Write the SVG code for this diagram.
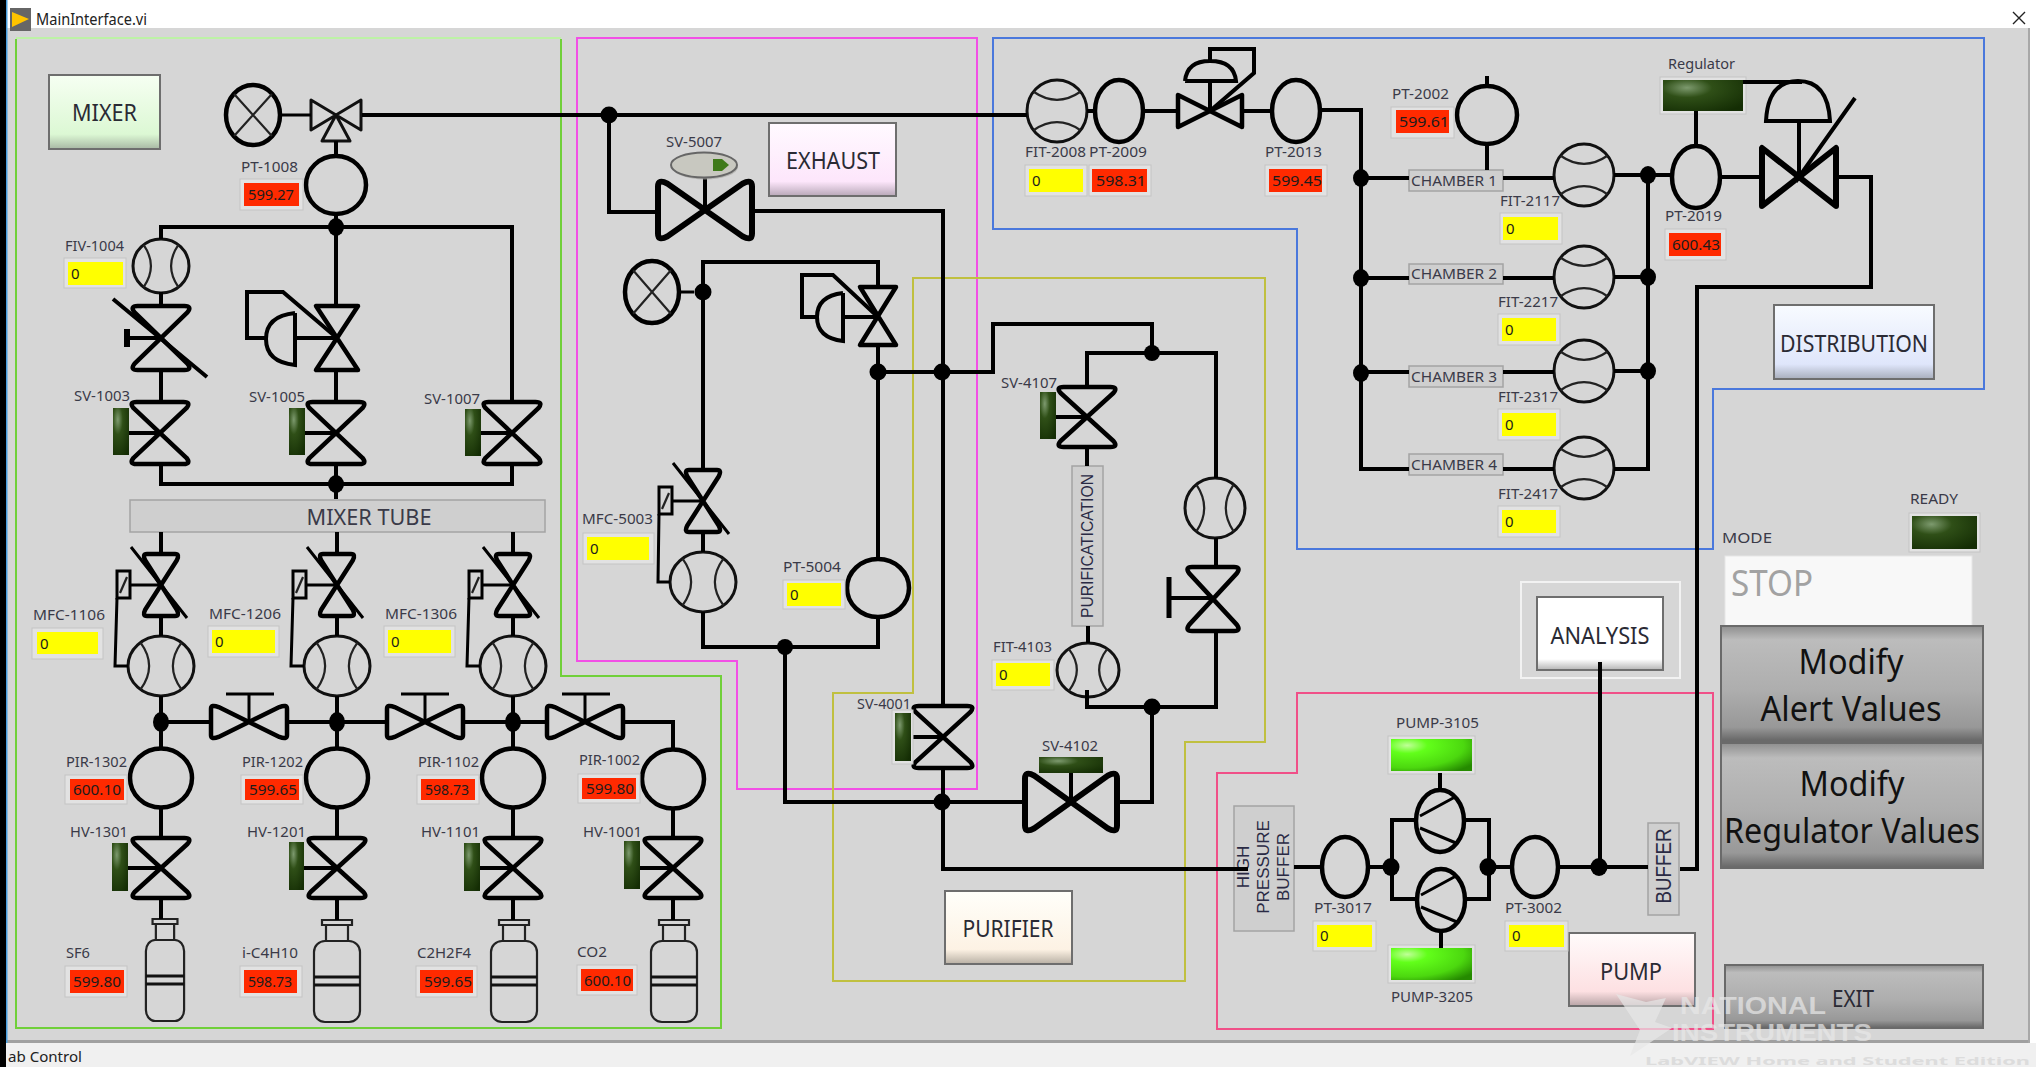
<svg xmlns="http://www.w3.org/2000/svg" xmlns:xlink="http://www.w3.org/1999/xlink" width="2036" height="1067" viewBox="0 0 2036 1067">
<style>
text{font-family:"Noto Sans","Open Sans","Liberation Sans",sans-serif}
.l{font-size:15px;fill:#3a3a48}
.v{font-size:15px;fill:#1c1c1c}
.b{font-size:24px;fill:#2a2a34;text-anchor:middle}
.g{font-size:34px;fill:#111;text-anchor:middle}
.r{font-family:"Liberation Sans",sans-serif;fill:#2a2a44;text-anchor:middle}
.w{font-family:"Liberation Sans",sans-serif;font-size:24px;font-weight:700;fill:#e8e8e8}
.pipe{fill:none;stroke:#000;stroke-width:4}
.thin{fill:none;stroke:#000;stroke-width:3}
.j{fill:#000}
.s{fill:none;stroke:#000;stroke-width:4.500;stroke-linejoin:round;vector-effect:non-scaling-stroke}
.s5{fill:none;stroke:#000;stroke-width:6;stroke-linejoin:round;vector-effect:non-scaling-stroke}
.s3{fill:none;stroke:#111;stroke-width:3;stroke-linejoin:round;vector-effect:non-scaling-stroke}
.s2{fill:none;stroke:#222;stroke-width:2.2;vector-effect:non-scaling-stroke}
.fr{fill:#e2e2e2;stroke:#c4c4c4;stroke-width:1}
.red{fill:#ff2a00}
.yel{fill:#ffff00}
.region{fill:none;stroke-width:2}
.btn{stroke:#6e6e6e;stroke-width:2}
.gbtn{fill:url(#gb);stroke:#6a6a6a;stroke-width:2}
.tag{fill:#cfcfcf;stroke:#a4a4a4;stroke-width:1.5}
</style>
<defs>
<radialGradient id="led" cx=".3" cy=".25" r=".9"><stop offset="0" stop-color="#7d9a6e"/><stop offset=".35" stop-color="#2f4f17"/><stop offset="1" stop-color="#142d04"/></radialGradient>
<radialGradient id="ledon" cx=".2" cy=".2" r="1"><stop offset="0" stop-color="#c0ff98"/><stop offset=".25" stop-color="#62ff1a"/><stop offset=".7" stop-color="#4cd80f"/><stop offset="1" stop-color="#258a00"/></radialGradient>
<linearGradient id="gb" x1="0" y1="0" x2="0" y2="1"><stop offset="0" stop-color="#8e8e8e"/><stop offset=".12" stop-color="#bcbcbc"/><stop offset=".55" stop-color="#aeaeae"/><stop offset=".88" stop-color="#989898"/><stop offset="1" stop-color="#666"/></linearGradient>
<linearGradient id="bgreen" x1="0" y1="0" x2="0" y2="1"><stop offset="0" stop-color="#f6fff2"/><stop offset=".8" stop-color="#dcf8d4"/><stop offset="1" stop-color="#a8b8a4"/></linearGradient>
<linearGradient id="bpink" x1="0" y1="0" x2="0" y2="1"><stop offset="0" stop-color="#fffaff"/><stop offset=".8" stop-color="#fde6fb"/><stop offset="1" stop-color="#b8a8b8"/></linearGradient>
<linearGradient id="bcream" x1="0" y1="0" x2="0" y2="1"><stop offset="0" stop-color="#fffffa"/><stop offset=".8" stop-color="#fdf2e4"/><stop offset="1" stop-color="#b8b0a4"/></linearGradient>
<linearGradient id="bblue" x1="0" y1="0" x2="0" y2="1"><stop offset="0" stop-color="#f8fbff"/><stop offset=".8" stop-color="#dfe6fb"/><stop offset="1" stop-color="#a8aebc"/></linearGradient>
<linearGradient id="brose" x1="0" y1="0" x2="0" y2="1"><stop offset="0" stop-color="#fffbfb"/><stop offset=".8" stop-color="#fde0e2"/><stop offset="1" stop-color="#b8a4a6"/></linearGradient>
<linearGradient id="bwhite" x1="0" y1="0" x2="0" y2="1"><stop offset="0" stop-color="#fff"/><stop offset=".85" stop-color="#fff"/><stop offset="1" stop-color="#b4b4b4"/></linearGradient>
<path id="hg" class="s" d="M-.78,-1 Q-1.05,-1 -.88,-.8 L.88,.8 Q1.05,1 .78,1 L-.78,1 Q-1.05,1 -.88,.8 L.88,-.8 Q1.05,-1 .78,-1 Z"/>
<path id="bt" class="s5" d="M-1,-.78 Q-1,-1.05 -.8,-.88 L.8,.88 Q1,1.05 1,.78 L1,-.78 Q1,-1.05 .8,-.88 L-.8,.88 Q-1,1.05 -1,.78 Z"/>
<path id="gt" class="s" d="M-1,-.78 Q-1,-1.05 -.8,-.88 L.8,.88 Q1,1.05 1,.78 L1,-.78 Q1,-1.05 .8,-.88 L-.8,.88 Q-1,1.05 -1,.78 Z"/>
<path id="shg" class="s" d="M-1,-1 L1,-1 L-1,1 L1,1 Z"/>
<path id="sbt" class="s" d="M-1,-1 L-1,1 L1,-1 L1,1 Z"/>
<path id="sbt5" class="s5" d="M-1,-1 L-1,1 L1,-1 L1,1 Z"/>
<ellipse id="ring" class="s" rx="1" ry="1"/>
<g id="xg"><ellipse class="s" rx="1" ry="1"/><path class="s2" d="M-.7,-.7 L.7,.7 M.7,-.7 L-.7,.7"/></g>
<g id="fv"><ellipse class="s3" rx="1" ry="1"/><path class="s2" d="M-.62,-.78 Q-.1,0 -.62,.78 M.62,-.78 Q.1,0 .62,.78"/></g>
<g id="fh"><ellipse class="s3" rx="1" ry="1"/><path class="s2" d="M-.78,-.62 Q0,-.1 .78,-.62 M-.78,.62 Q0,.1 .78,.62"/></g>
<g id="cyl"><rect class="s2" x="-23" y="21" width="46" height="81" rx="11"/><path class="s2" d="M-11,5 V21 M11,5 V21"/><rect class="s2" x="-15" y="0" width="30" height="5"/><path class="s3" d="M-23,57 H23 M-23,65 H23"/></g>
<g id="mfcv"><use href="#hg" transform="scale(18,31)"/><path class="thin" d="M-30,-38 L26,33 M-31,0 H0"/><rect class="thin" x="-44" y="-14" width="13" height="27"/><path class="s2" d="M-41,8 L-34,-8"/></g>
</defs>

<rect width="2036" height="1067" fill="#fff"/>
<rect x="6" y="28" width="2024" height="1015" fill="#d6d6d6"/>
<rect x="6" y="1043" width="2030" height="24" fill="#f0f0f0"/>
<rect x="6" y="1040" width="2024" height="3" fill="#a0a0a0"/>
<rect x="2028" y="28" width="2" height="1015" fill="#a8a8a8"/>
<rect x="0" y="0" width="6" height="1067" fill="#000"/>
<rect x="6" y="0" width="1.5" height="1043" fill="#4aa0e0"/>
<g id="titlebar">
<rect x="10" y="8" width="21" height="23" fill="#666"/><path d="M12,12 L29,19 L12,27 Z" fill="#ffc400"/>
<text x="36" y="25" font-size="15.5" fill="#222" textLength="111" lengthAdjust="spacingAndGlyphs">MainInterface.vi</text>
<path d="M2013,12 L2025,24 M2025,12 L2013,24" stroke="#222" stroke-width="1.4"/>
</g>
<text x="8" y="1062" font-size="14.5" fill="#222" textLength="74" lengthAdjust="spacingAndGlyphs">ab Control</text>

<g id="regions">
<polyline class="region" stroke="#70d03a" points="561,39 561,676 721,676 721,1028 16,1028 16,39"/>
<path class="region" stroke="#bdf2a6" d="M16,38 H561"/>
<polygon class="region" stroke="#f24fe6" points="577,38 977,38 977,789 737,789 737,661 577,661"/>
<polygon class="region" stroke="#4a78dc" points="993,38 1984,38 1984,389 1713,389 1713,549 1297,549 1297,229 993,229"/>
<polygon class="region" stroke="#c0c040" points="913,278 1265,278 1265,742 1185,742 1185,981 833,981 833,693 913,693"/>
<polygon class="region" stroke="#f05088" points="1297,693 1713,693 1713,1029 1217,1029 1217,773 1297,773"/>
<rect x="1521" y="582" width="159" height="96" fill="none" stroke="#f2f2f2" stroke-width="2"/>
</g>

<g id="MIXER"><rect class="btn" fill="url(#bgreen)" x="49" y="75" width="111" height="74"/><text class="b" x="104.500" y="121" textLength="65" lengthAdjust="spacingAndGlyphs">MIXER</text></g>
<g id="EXHAUST"><rect class="btn" fill="url(#bpink)" x="769" y="123" width="127" height="73"/><text class="b" x="833" y="169" textLength="94" lengthAdjust="spacingAndGlyphs">EXHAUST</text></g>
<g id="PURIFIER"><rect class="btn" fill="url(#bcream)" x="945" y="891" width="127" height="73"/><text class="b" x="1008" y="937" textLength="91" lengthAdjust="spacingAndGlyphs">PURIFIER</text></g>
<g id="DISTRIBUTION"><rect class="btn" fill="url(#bblue)" x="1774" y="305" width="160" height="74"/><text class="b" x="1854" y="352" textLength="148" lengthAdjust="spacingAndGlyphs">DISTRIBUTION</text></g>
<g id="ANALYSIS"><rect class="btn" fill="url(#bwhite)" x="1537" y="597" width="126" height="73"/><text class="b" x="1600" y="644" textLength="99" lengthAdjust="spacingAndGlyphs">ANALYSIS</text></g>
<g id="PUMP"><rect class="btn" fill="url(#brose)" x="1569" y="933" width="126" height="73"/><text class="b" x="1631" y="980" textLength="62" lengthAdjust="spacingAndGlyphs">PUMP</text></g>

<g id="MODE"><text class="l" x="1722" y="543" textLength="50" lengthAdjust="spacingAndGlyphs">MODE</text><rect x="1725" y="556" width="247" height="70" fill="#f8f8f8" stroke="#e6e6e6"/><text x="1731" y="596" font-size="36" fill="#a2a2a2" textLength="82" lengthAdjust="spacingAndGlyphs">STOP</text></g>
<g id="READY"><text class="l" x="1910" y="504" textLength="48" lengthAdjust="spacingAndGlyphs">READY</text><rect class="fr" x="1909" y="513" width="71" height="39"/><rect x="1912" y="516" width="65" height="33" fill="url(#led)"/></g>
<g id="ModifyAlert"><rect class="gbtn" x="1721" y="626" width="262" height="115"/><text class="g" x="1851" y="674" textLength="105" lengthAdjust="spacingAndGlyphs">Modify</text><text class="g" x="1851" y="721" textLength="181" lengthAdjust="spacingAndGlyphs">Alert Values</text></g>
<g id="ModifyRegulator"><rect class="gbtn" x="1721" y="743" width="262" height="125"/><text class="g" x="1852" y="796" textLength="105" lengthAdjust="spacingAndGlyphs">Modify</text><text class="g" x="1852" y="843" textLength="256" lengthAdjust="spacingAndGlyphs">Regulator Values</text></g>
<g id="EXIT"><rect class="gbtn" x="1725" y="965" width="258" height="63"/><text class="b" x="1853" y="1007" textLength="42" lengthAdjust="spacingAndGlyphs">EXIT</text></g>

<g id="gauge-1"><use href="#xg" transform="translate(253,115) scale(27,30)"/></g>
<g id="valve-3way"><path class="s3" d="M311,100 L336,115 L311,130 Z M361,100 L336,115 L361,130 Z M336,115 L322,141 H350 Z"/></g>
<g id="PT-1008"><use href="#ring" transform="translate(336,185) scale(30,29)"/><text class="l" x="241" y="172" textLength="57" lengthAdjust="spacingAndGlyphs">PT-1008</text><rect class="fr" x="240" y="179" width="63" height="31"/><rect class="red" x="244" y="183" width="55" height="23"/><text class="v" x="248" y="200" textLength="46" lengthAdjust="spacingAndGlyphs">599.27</text></g>
<g id="FIV-1004"><use href="#fv" transform="translate(161,266) scale(28,27)"/><text class="l" x="65" y="251" textLength="59" lengthAdjust="spacingAndGlyphs">FIV-1004</text><rect class="fr" x="64" y="258" width="62" height="30"/><rect class="yel" x="68" y="262" width="55" height="23"/><text class="v" x="71" y="279">0</text></g>
<g id="valve-1004"><use href="#hg" transform="translate(161,338) scale(30,32)"/><path class="pipe" d="M113,299 L207,377 M161,338 H127"/><path d="M127,329 V347" stroke="#000" stroke-width="6" fill="none"/></g>
<g id="valve-1005"><use href="#shg" transform="translate(337,338) scale(21,32)"/><path class="pipe" d="M295,313 V365 Q266,362 266,339 Q266,316 295,313 M295,338 H337 M266,338 H247 V292 H283 L337,338"/></g>
<g id="SV-1003"><use href="#hg" transform="translate(160,433) scale(30,31)"/><path class="pipe" d="M129,433 H160"/><text class="l" x="74" y="401" textLength="56" lengthAdjust="spacingAndGlyphs">SV-1003</text><rect x="113" y="408" width="16" height="47" fill="url(#led)"/></g>
<g id="SV-1005"><use href="#hg" transform="translate(336,433) scale(30,31)"/><path class="pipe" d="M305,433 H336"/><text class="l" x="249" y="402" textLength="56" lengthAdjust="spacingAndGlyphs">SV-1005</text><rect x="289" y="408" width="16" height="47" fill="url(#led)"/></g>
<g id="SV-1007"><use href="#hg" transform="translate(512,433) scale(30,31)"/><path class="pipe" d="M481,433 H512"/><text class="l" x="424" y="404" textLength="56" lengthAdjust="spacingAndGlyphs">SV-1007</text><rect x="465" y="409" width="16" height="47" fill="url(#led)"/></g>
<g id="MIXER-TUBE"><rect class="tag" x="130" y="500" width="415" height="32"/><text x="369" y="525" font-size="22" fill="#3a3a48" text-anchor="middle" textLength="125" lengthAdjust="spacingAndGlyphs">MIXER TUBE</text></g>

<g id="MFC-1106"><use href="#mfcv" transform="translate(161,585)"/><use href="#fv" transform="translate(161,666) scale(33,30)"/><text class="l" x="33" y="620" textLength="72" lengthAdjust="spacingAndGlyphs">MFC-1106</text><rect class="fr" x="32" y="628" width="71" height="31"/><rect class="yel" x="37" y="632" width="61" height="22"/><text class="v" x="40" y="649">0</text></g>
<g id="MFC-1206"><use href="#mfcv" transform="translate(337,585)"/><use href="#fv" transform="translate(337,666) scale(33,30)"/><text class="l" x="209" y="619" textLength="72" lengthAdjust="spacingAndGlyphs">MFC-1206</text><rect class="fr" x="208" y="626" width="71" height="31"/><rect class="yel" x="212" y="630" width="63" height="23"/><text class="v" x="215" y="647">0</text></g>
<g id="MFC-1306"><use href="#mfcv" transform="translate(513,585)"/><use href="#fv" transform="translate(513,666) scale(33,30)"/><text class="l" x="385" y="619" textLength="72" lengthAdjust="spacingAndGlyphs">MFC-1306</text><rect class="fr" x="384" y="626" width="71" height="31"/><rect class="yel" x="388" y="630" width="63" height="23"/><text class="v" x="391" y="647">0</text></g>
<g id="gate-1"><use href="#gt" transform="translate(249,722) scale(38,17)"/><path class="thin" d="M249,722 V694 M226,694 H274"/></g>
<g id="gate-2"><use href="#gt" transform="translate(425,722) scale(38,17)"/><path class="thin" d="M425,722 V694 M401,694 H449"/></g>
<g id="gate-3"><use href="#gt" transform="translate(585,722) scale(38,17)"/><path class="thin" d="M585,722 V694 M562,694 H610"/></g>

<g id="PIR-1302"><use href="#ring" transform="translate(161,778) scale(31,29.500)"/><text class="l" x="66" y="767" textLength="61" lengthAdjust="spacingAndGlyphs">PIR-1302</text><rect class="fr" x="65" y="775" width="62" height="29"/><rect class="red" x="70" y="779" width="54" height="21"/><text class="v" x="73" y="795" textLength="48" lengthAdjust="spacingAndGlyphs">600.10</text></g>
<g id="PIR-1202"><use href="#ring" transform="translate(337,778) scale(31,29.500)"/><text class="l" x="242" y="767" textLength="61" lengthAdjust="spacingAndGlyphs">PIR-1202</text><rect class="fr" x="241" y="775" width="62" height="29"/><rect class="red" x="245" y="779" width="54" height="21"/><text class="v" x="249" y="795" textLength="48" lengthAdjust="spacingAndGlyphs">599.65</text></g>
<g id="PIR-1102"><use href="#ring" transform="translate(513,778) scale(31,29.500)"/><text class="l" x="418" y="767" textLength="61" lengthAdjust="spacingAndGlyphs">PIR-1102</text><rect class="fr" x="417" y="775" width="62" height="29"/><rect class="red" x="421" y="779" width="54" height="21"/><text class="v" x="425" y="795" textLength="44" lengthAdjust="spacingAndGlyphs">598.73</text></g>
<g id="PIR-1002"><use href="#ring" transform="translate(673,779) scale(31,29.500)"/><text class="l" x="579" y="765" textLength="61" lengthAdjust="spacingAndGlyphs">PIR-1002</text><rect class="fr" x="578" y="774" width="62" height="29"/><rect class="red" x="582" y="778" width="54" height="21"/><text class="v" x="586" y="794" textLength="48" lengthAdjust="spacingAndGlyphs">599.80</text></g>

<g id="HV-1301"><use href="#hg" transform="translate(161,868) scale(30,30)"/><path class="pipe" d="M128,868 H161"/><text class="l" x="70" y="837" textLength="58" lengthAdjust="spacingAndGlyphs">HV-1301</text><rect x="112" y="843" width="16" height="48" fill="url(#led)"/></g>
<g id="HV-1201"><use href="#hg" transform="translate(337,868) scale(30,30)"/><path class="pipe" d="M304,868 H337"/><text class="l" x="247" y="837" textLength="59" lengthAdjust="spacingAndGlyphs">HV-1201</text><rect x="289" y="842" width="15" height="48" fill="url(#led)"/></g>
<g id="HV-1101"><use href="#hg" transform="translate(513,868) scale(30,30)"/><path class="pipe" d="M480,868 H513"/><text class="l" x="421" y="837" textLength="59" lengthAdjust="spacingAndGlyphs">HV-1101</text><rect x="464" y="843" width="16" height="48" fill="url(#led)"/></g>
<g id="HV-1001"><use href="#hg" transform="translate(673,868) scale(30,30)"/><path class="pipe" d="M640,868 H673"/><text class="l" x="583" y="837" textLength="59" lengthAdjust="spacingAndGlyphs">HV-1001</text><rect x="624" y="841" width="16" height="48" fill="url(#led)"/></g>

<g id="SF6"><use href="#cyl" transform="translate(165,919) scale(.83,1)"/><text class="l" x="66" y="958" textLength="24" lengthAdjust="spacingAndGlyphs">SF6</text><rect class="fr" x="65" y="966" width="62" height="31"/><rect class="red" x="70" y="970" width="54" height="23"/><text class="v" x="73" y="987" textLength="48" lengthAdjust="spacingAndGlyphs">599.80</text></g>
<g id="i-C4H10"><use href="#cyl" transform="translate(337,920)"/><text class="l" x="242" y="958" textLength="56" lengthAdjust="spacingAndGlyphs">i-C4H10</text><rect class="fr" x="240" y="966" width="62" height="31"/><rect class="red" x="244" y="970" width="53" height="23"/><text class="v" x="248" y="987" textLength="44" lengthAdjust="spacingAndGlyphs">598.73</text></g>
<g id="C2H2F4"><use href="#cyl" transform="translate(514,920)"/><text class="l" x="417" y="958" textLength="54" lengthAdjust="spacingAndGlyphs">C2H2F4</text><rect class="fr" x="416" y="966" width="61" height="31"/><rect class="red" x="420" y="970" width="53" height="23"/><text class="v" x="424" y="987" textLength="48" lengthAdjust="spacingAndGlyphs">599.65</text></g>
<g id="CO2"><use href="#cyl" transform="translate(674,920)"/><text class="l" x="577" y="957" textLength="30" lengthAdjust="spacingAndGlyphs">CO2</text><rect class="fr" x="577" y="965" width="60" height="30"/><rect class="red" x="581" y="969" width="52" height="22"/><text class="v" x="584" y="986" textLength="47" lengthAdjust="spacingAndGlyphs">600.10</text></g>

<g id="SV-5007"><use href="#bt" transform="translate(705,210) scale(47,30)"/><path class="pipe" d="M705,210 V178"/><text class="l" x="666" y="147" textLength="56" lengthAdjust="spacingAndGlyphs">SV-5007</text><ellipse cx="705" cy="167" rx="33" ry="12.500" fill="#a8a8a4" opacity=".7"/><ellipse cx="704" cy="165" rx="33" ry="12.500" fill="#c8c8c0" stroke="#666" stroke-width="2"/><path d="M713,159 H722 L729,165 L722,171 H713 Z" fill="#3f7a1a"/></g>
<g id="gauge-2"><use href="#xg" transform="translate(652,292) scale(27,31)"/></g>
<g id="valve-5005"><use href="#shg" transform="translate(878,316) scale(18,29)"/><path class="pipe" d="M843,293 V341 Q817,338 817,317 Q817,296 843,293 M843,317 H878 M817,317 H802 V275 H833 L878,317"/></g>
<g id="MFC-5003"><use href="#mfcv" transform="translate(703,501)"/><use href="#fv" transform="translate(703,582) scale(33,30)"/><text class="l" x="582" y="524" textLength="71" lengthAdjust="spacingAndGlyphs">MFC-5003</text><rect class="fr" x="583" y="533" width="71" height="31"/><rect class="yel" x="587" y="537" width="62" height="23"/><text class="v" x="590" y="554">0</text></g>
<g id="PT-5004"><use href="#ring" transform="translate(878,588) scale(31,29)"/><text class="l" x="783" y="572" textLength="58" lengthAdjust="spacingAndGlyphs">PT-5004</text><rect class="fr" x="783" y="580" width="62" height="29"/><rect class="yel" x="787" y="583" width="54" height="23"/><text class="v" x="790" y="600">0</text></g>
<g id="SV-4001"><use href="#hg" transform="translate(943,737) scale(31,31)"/><path class="pipe" d="M911,737 H943"/><text class="l" x="857" y="709" textLength="54" lengthAdjust="spacingAndGlyphs">SV-4001</text><rect class="fr" x="892" y="710" width="21" height="54"/><rect x="895" y="713" width="16" height="48" fill="url(#led)"/></g>
<g id="SV-4102"><use href="#bt" transform="translate(1071,802) scale(46,30)"/><path class="pipe" d="M1071,773 V802"/><text class="l" x="1042" y="751" textLength="56" lengthAdjust="spacingAndGlyphs">SV-4102</text><rect x="1039" y="757" width="64" height="16" fill="url(#led)"/></g>
<g id="FIT-4103"><use href="#fv" transform="translate(1088,670) scale(31,27)"/><text class="l" x="993" y="652" textLength="59" lengthAdjust="spacingAndGlyphs">FIT-4103</text><rect class="fr" x="992" y="660" width="62" height="30"/><rect class="yel" x="996" y="663" width="54" height="23"/><text class="v" x="999" y="680">0</text></g>
<g id="PURIFICATICATION"><rect class="tag" x="1072" y="466" width="31" height="160"/><text class="r" transform="translate(1093,546) rotate(-90)" font-size="17" textLength="144" lengthAdjust="spacingAndGlyphs">PURIFICATICATION</text></g>
<g id="SV-4107"><use href="#hg" transform="translate(1087,417) scale(30,30)"/><path class="pipe" d="M1056,417 H1087"/><text class="l" x="1001" y="388" textLength="56" lengthAdjust="spacingAndGlyphs">SV-4107</text><rect x="1040" y="392" width="16" height="47" fill="url(#led)"/></g>
<g id="flow-41"><use href="#fv" transform="translate(1215,508) scale(30,30)"/></g>
<g id="valve-41"><use href="#hg" transform="translate(1213,599) scale(27,32)"/><path class="pipe" d="M1213,598 H1170"/><path d="M1169,577 V618" stroke="#000" stroke-width="5" fill="none"/></g>

<g id="FIT-2008"><use href="#fh" transform="translate(1057,111) scale(30,31)"/><text class="l" x="1025" y="157" textLength="61" lengthAdjust="spacingAndGlyphs">FIT-2008</text><rect class="fr" x="1025" y="165" width="62" height="31"/><rect class="yel" x="1029" y="169" width="54" height="23"/><text class="v" x="1032" y="186">0</text></g>
<g id="PT-2009"><use href="#ring" transform="translate(1119,111) scale(24,31)"/><text class="l" x="1089" y="157" textLength="58" lengthAdjust="spacingAndGlyphs">PT-2009</text><rect class="fr" x="1089" y="165" width="62" height="31"/><rect class="red" x="1092" y="169" width="55" height="23"/><text class="v" x="1096" y="186" textLength="50" lengthAdjust="spacingAndGlyphs">598.31</text></g>
<g id="valve-2011"><use href="#sbt" transform="translate(1210,111) scale(32,16)"/><path class="pipe" d="M1185,81 H1236 Q1234,61 1210,61 Q1187,61 1185,81 M1210,81 V111 M1210,61 V49 H1254 V73 L1210,111"/></g>
<g id="PT-2013"><use href="#ring" transform="translate(1296,111) scale(24,31)"/><text class="l" x="1265" y="157" textLength="57" lengthAdjust="spacingAndGlyphs">PT-2013</text><rect class="fr" x="1265" y="165" width="62" height="31"/><rect class="red" x="1269" y="169" width="53" height="23"/><text class="v" x="1272" y="186" textLength="50" lengthAdjust="spacingAndGlyphs">599.45</text></g>
<g id="PT-2002"><use href="#ring" transform="translate(1487,115) scale(30,29)"/><text class="l" x="1392" y="99" textLength="57" lengthAdjust="spacingAndGlyphs">PT-2002</text><rect class="fr" x="1391" y="107" width="63" height="31"/><rect class="red" x="1396" y="110" width="53" height="23"/><text class="v" x="1399" y="127" textLength="50" lengthAdjust="spacingAndGlyphs">599.61</text></g>
<g id="CHAMBER-1"><rect class="tag" x="1409" y="170" width="94" height="21"/><text class="l" x="1411" y="186" textLength="86" lengthAdjust="spacingAndGlyphs">CHAMBER 1</text></g>
<g id="CHAMBER-2"><rect class="tag" x="1409" y="264" width="94" height="20"/><text class="l" x="1411" y="279" textLength="86" lengthAdjust="spacingAndGlyphs">CHAMBER 2</text></g>
<g id="CHAMBER-3"><rect class="tag" x="1409" y="366" width="94" height="21"/><text class="l" x="1411" y="382" textLength="86" lengthAdjust="spacingAndGlyphs">CHAMBER 3</text></g>
<g id="CHAMBER-4"><rect class="tag" x="1409" y="454" width="94" height="21"/><text class="l" x="1411" y="470" textLength="86" lengthAdjust="spacingAndGlyphs">CHAMBER 4</text></g>
<g id="FIT-2117"><use href="#fh" transform="translate(1584,175) scale(30,31)"/><text class="l" x="1500" y="206" textLength="60" lengthAdjust="spacingAndGlyphs">FIT-2117</text><rect class="fr" x="1500" y="213" width="62" height="31"/><rect class="yel" x="1503" y="217" width="55" height="23"/><text class="v" x="1506" y="234">0</text></g>
<g id="FIT-2217"><use href="#fh" transform="translate(1584,277) scale(30,31)"/><text class="l" x="1498" y="307" textLength="60" lengthAdjust="spacingAndGlyphs">FIT-2217</text><rect class="fr" x="1498" y="314" width="62" height="31"/><rect class="yel" x="1502" y="318" width="54" height="23"/><text class="v" x="1505" y="335">0</text></g>
<g id="FIT-2317"><use href="#fh" transform="translate(1584,371) scale(30,31)"/><text class="l" x="1498" y="402" textLength="60" lengthAdjust="spacingAndGlyphs">FIT-2317</text><rect class="fr" x="1498" y="409" width="62" height="31"/><rect class="yel" x="1502" y="413" width="54" height="23"/><text class="v" x="1505" y="430">0</text></g>
<g id="FIT-2417"><use href="#fh" transform="translate(1584,468) scale(30,31)"/><text class="l" x="1498" y="499" textLength="60" lengthAdjust="spacingAndGlyphs">FIT-2417</text><rect class="fr" x="1498" y="506" width="62" height="31"/><rect class="yel" x="1502" y="510" width="54" height="23"/><text class="v" x="1505" y="527">0</text></g>
<g id="PT-2019"><use href="#ring" transform="translate(1696,177) scale(24,31)"/><text class="l" x="1665" y="221" textLength="57" lengthAdjust="spacingAndGlyphs">PT-2019</text><rect class="fr" x="1665" y="229" width="61" height="31"/><rect class="red" x="1669" y="233" width="52" height="23"/><text class="v" x="1672" y="250" textLength="48" lengthAdjust="spacingAndGlyphs">600.43</text></g>
<g id="Regulator"><text class="l" x="1668" y="69" textLength="67" lengthAdjust="spacingAndGlyphs">Regulator</text><rect class="fr" x="1660" y="77" width="86" height="37"/><rect x="1663" y="80" width="80" height="31" fill="url(#led)"/></g>
<g id="valve-regulator"><use href="#sbt5" transform="translate(1799,177) scale(37,29)"/><path class="pipe" d="M1766,121 H1830 Q1828,81 1798,81 Q1768,81 1766,121 Z M1799,121 V177 L1855,98"/></g>

<g id="HP-BUFFER"><rect class="tag" x="1234" y="806" width="60" height="125"/><text class="r" transform="translate(1249,867) rotate(-90)" font-size="17">HIGH</text><text class="r" transform="translate(1269,867) rotate(-90)" font-size="17">PRESSURE</text><text class="r" transform="translate(1289,867) rotate(-90)" font-size="17">BUFFER</text></g>
<g id="PT-3017"><use href="#ring" transform="translate(1345,867) scale(23,30)"/><text class="l" x="1314" y="913" textLength="58" lengthAdjust="spacingAndGlyphs">PT-3017</text><rect class="fr" x="1313" y="921" width="63" height="30"/><rect class="yel" x="1317" y="925" width="55" height="22"/><text class="v" x="1320" y="941">0</text></g>
<g id="PT-3002"><use href="#ring" transform="translate(1535,867) scale(23,30)"/><text class="l" x="1505" y="913" textLength="57" lengthAdjust="spacingAndGlyphs">PT-3002</text><rect class="fr" x="1505" y="921" width="63" height="30"/><rect class="yel" x="1509" y="925" width="55" height="22"/><text class="v" x="1512" y="941">0</text></g>
<g id="PUMP-3105"><ellipse class="s" cx="1440" cy="821" rx="24" ry="31"/><path class="thin" d="M1420,816 L1455,797 M1420,828 L1456,843"/><text class="l" x="1396" y="728" textLength="83" lengthAdjust="spacingAndGlyphs">PUMP-3105</text><rect class="fr" x="1388" y="736" width="87" height="38"/><rect x="1391" y="739" width="81" height="32" fill="url(#ledon)"/></g>
<g id="PUMP-3205"><ellipse class="s" cx="1441" cy="900" rx="24" ry="31"/><path class="thin" d="M1421,895 L1456,876 M1421,907 L1457,922"/><text class="l" x="1391" y="1002" textLength="82" lengthAdjust="spacingAndGlyphs">PUMP-3205</text><rect class="fr" x="1388" y="945" width="87" height="38"/><rect x="1391" y="948" width="81" height="32" fill="url(#ledon)"/></g>
<g id="BUFFER"><rect class="tag" x="1648" y="823" width="31" height="92"/><text class="r" transform="translate(1671,866) rotate(-90)" font-size="22" textLength="75" lengthAdjust="spacingAndGlyphs">BUFFER</text></g>

<g id="connectors">
<path class="thin" d="M279,115 H311 M679,292 H694"/>
<path class="pipe" d="M362,115 H1027 M336,141 V157 M336,214 V306 M161,239 V227 H512 V402 M161,292 V306 M161,370 V402 M161,464 V484 H512 V464 M336,370 V402 M336,464 V499"/>
<path class="pipe" d="M161,532 V554 M161,615 V636 M161,696 V749 M161,808 V838 M161,899 V919 M337,532 V554 M337,615 V636 M337,696 V749 M337,808 V838 M337,899 V920 M513,532 V554 M513,615 V636 M513,696 V749 M513,808 V838 M513,899 V920"/>
<path class="thin" d="M117,598 L115,666 H128 M293,598 L291,666 H304 M469,598 L467,666 H480 M659,514 L658,582 H670"/>
<path class="pipe" d="M161,722 H211 M287,722 H387 M463,722 H547 M623,722 H673 V750 M673,808 V838 M673,899 V920"/>
<path class="pipe" d="M609,115 V212 H658 M752,211 H943 V707 M703,470 V262 H878 V287 M878,345 V559 M878,617 V647 H703 V612 M703,532 V552 M785,647 V802 H1025 M878,372 H993 V324 H1152 V353 M1087,387 V353 H1216 V478 M1216,538 V567 M1216,630 V707 H1087 V690 M1088,626 V643 M1087,466 V448 M943,768 V869 H1248 M1118,802 H1152 V707"/>
<path class="pipe" d="M1087,111 H1095 M1143,111 H1178 M1243,111 H1272 M1320,110 H1361 V469 H1409 M1361,178 H1409 M1503,178 H1554 M1361,278 H1409 M1503,278 H1554 M1361,372 H1409 M1503,372 H1554 M1503,469 H1554 M1614,175 H1672 M1648,175 V469 H1614 M1614,277 H1648 M1614,371 H1648 M1720,177 H1763 M1836,177 H1871 V287 H1697 V869 H1680 M1696,146 V111 M1743,82 H1802 M1487,76 V86 M1487,144 V170"/>
<path class="pipe" d="M1294,867 H1322 M1368,867 H1391 M1488,867 H1512 M1558,867 H1648 M1600,662 V867 M1416,820 H1392 V899 H1417 M1464,820 H1489 V899 H1465 M1440,773 V790 M1441,931 V948"/>
<g class="j">
<ellipse cx="336" cy="227" rx="8" ry="9"/><ellipse cx="336" cy="484" rx="8" ry="9"/>
<ellipse cx="161" cy="722" rx="8" ry="10"/><ellipse cx="337" cy="722" rx="8" ry="10"/><ellipse cx="513" cy="722" rx="8" ry="10"/>
<circle cx="609" cy="115" r="8.500"/><circle cx="703" cy="292" r="8.500"/><circle cx="878" cy="372" r="8.500"/><circle cx="942" cy="372" r="8.500"/><circle cx="785" cy="647" r="8"/><circle cx="942" cy="802" r="8.500"/><circle cx="1152" cy="707" r="8.500"/><circle cx="1152" cy="353" r="8"/>
<ellipse cx="1361" cy="178" rx="8" ry="9"/><ellipse cx="1361" cy="278" rx="8" ry="9"/><ellipse cx="1361" cy="373" rx="8" ry="9"/>
<ellipse cx="1648" cy="175" rx="8" ry="9"/><ellipse cx="1648" cy="277" rx="8" ry="9"/><ellipse cx="1648" cy="371" rx="8" ry="9"/>
<ellipse cx="1391" cy="867" rx="8.500" ry="9"/><ellipse cx="1488" cy="867" rx="8.500" ry="9"/><ellipse cx="1599" cy="867" rx="8.500" ry="9"/>
</g>
</g>

<g id="watermark" opacity=".7">
<path d="M1616,994 L1646,1002 L1666,998 L1655,1022 L1672,1028 L1630,1056 L1640,1030 Z" fill="#e8e8e8"/>
<text class="w" x="1680" y="1014" textLength="146" lengthAdjust="spacingAndGlyphs">NATIONAL</text>
<text class="w" x="1672" y="1041" textLength="200" lengthAdjust="spacingAndGlyphs">INSTRUMENTS</text>
<text x="1645" y="1065" font-size="11" font-weight="700" fill="#d4d4d4" textLength="385" lengthAdjust="spacingAndGlyphs">LabVIEW Home and Student Edition</text>
</g>
</svg>
